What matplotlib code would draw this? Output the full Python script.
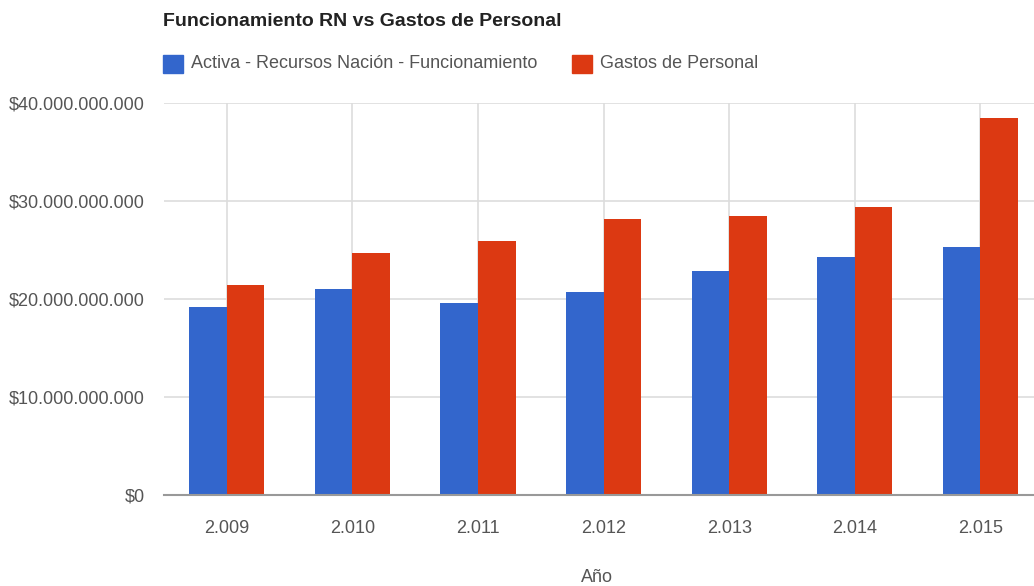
import matplotlib
matplotlib.use('Agg')
import matplotlib.pyplot as plt
from matplotlib import font_manager
import numpy as np

years = ['2.009', '2.010', '2.011', '2.012', '2.013', '2.014', '2.015']
activa = [19.2e9, 21.0e9, 19.6e9, 20.7e9, 22.9e9, 24.3e9, 25.3e9]
gastos = [21.4e9, 24.7e9, 25.9e9, 28.2e9, 28.5e9, 29.4e9, 38.5e9]
yticks = [0, 10e9, 20e9, 30e9, 40e9]
ytick_labels = ['$0', '$10.000.000.000', '$20.000.000.000', '$30.000.000.000', '$40.000.000.000']

names = {f.name for f in font_manager.fontManager.ttflist}
font = 'Liberation Sans Narrow' if 'Liberation Sans Narrow' in names else 'Liberation Sans'
plt.rcParams['font.family'] = [font, 'DejaVu Sans']

blue = '#3366CC'
red = '#DC3912'

fig = plt.figure(figsize=(10.34, 5.86), dpi=100)
ax = fig.add_axes([164/1034, 1 - 495/586, 1 - 164/1034, (495 - 103)/586])

x = np.arange(len(years))
w = 0.3
ax.bar(x - w/2, activa, w, color=blue, zorder=3)
ax.bar(x + w/2, gastos, w, color=red, zorder=3)

ax.set_xlim(-0.5, -0.5 + (1034 - 164)/125.6)
ax.set_ylim(0, 40e9)
ax.set_yticks(yticks)
ax.set_yticklabels(ytick_labels)
ax.set_xticks(x)
ax.set_xticklabels(years)
ax.tick_params(axis='both', length=0, labelsize=13, colors='#555555')
ax.tick_params(axis='y', pad=14)
ax.tick_params(axis='x', pad=18)
ax.grid(True, color='#DDDDDD', linewidth=1.2, zorder=0)
for s in ['top', 'right', 'left']:
    ax.spines[s].set_visible(False)
ax.spines['bottom'].set_color('#999999')
ax.spines['bottom'].set_linewidth(1.5)
ax.spines['bottom'].set_zorder(4)

fig.text(163/1034, 1 - 22/586, 'Funcionamiento RN vs Gastos de Personal',
         fontsize=14, fontweight='bold', color='#222222', va='center')

# legend
fig.patches.append(plt.Rectangle((163/1034, 1 - 73/586), 20/1034, 18/586,
                                 transform=fig.transFigure, color=blue, figure=fig))
fig.text(191/1034, 1 - 64/586, 'Activa - Recursos Nación - Funcionamiento',
         fontsize=13, color='#555555', va='center')
fig.patches.append(plt.Rectangle((572/1034, 1 - 73/586), 20/1034, 18/586,
                                 transform=fig.transFigure, color=red, figure=fig))
fig.text(600/1034, 1 - 64/586, 'Gastos de Personal',
         fontsize=13, color='#555555', va='center')

fig.text(597/1034, 1 - 577/586, 'Año', fontsize=13, color='#555555',
         ha='center', va='center')

fig.savefig('out.png', dpi=100)
